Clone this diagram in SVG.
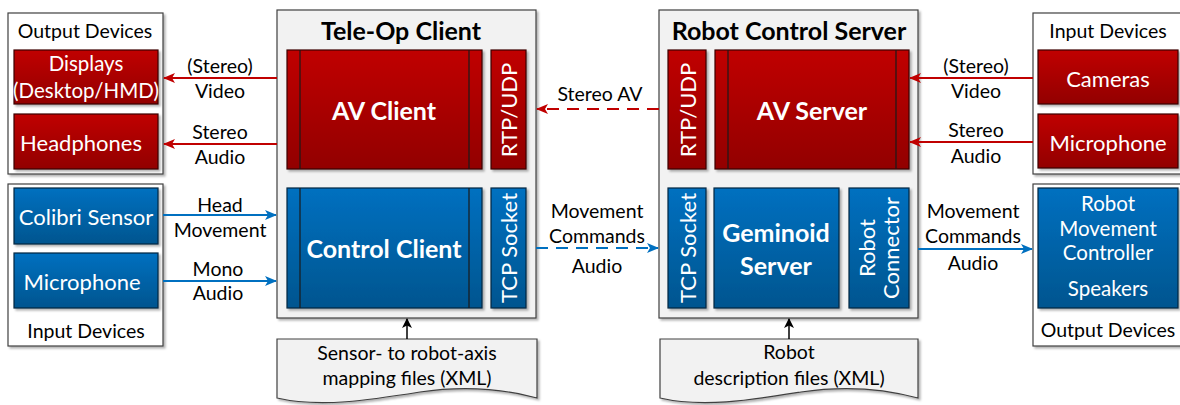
<svg xmlns="http://www.w3.org/2000/svg" width="1180" height="405" viewBox="0 0 1180 405">
<defs>
<linearGradient id="gr" x1="0" y1="0" x2="0" y2="1"><stop offset="0" stop-color="#c00000"/><stop offset="1" stop-color="#920000"/></linearGradient>
<linearGradient id="gb" x1="0" y1="0" x2="0" y2="1"><stop offset="0" stop-color="#0070c0"/><stop offset="1" stop-color="#00558f"/></linearGradient>
<filter id="sh" x="-10%" y="-10%" width="130%" height="130%"><feDropShadow dx="2" dy="2" stdDeviation="1" flood-color="#000" flood-opacity="0.3"/></filter>
<marker id="ar" markerWidth="12" markerHeight="10" refX="11" refY="5" orient="auto" markerUnits="userSpaceOnUse"><path d="M0,0 L12,5 L0,10 L3,5 Z" fill="#c00000"/></marker>
<marker id="ab" markerWidth="12" markerHeight="10" refX="11" refY="5" orient="auto" markerUnits="userSpaceOnUse"><path d="M0,0 L12,5 L0,10 L3,5 Z" fill="#0070c0"/></marker>
<marker id="ak" markerWidth="10" markerHeight="10" refX="9" refY="5" orient="auto" markerUnits="userSpaceOnUse"><path d="M0,0 L10,5 L0,10 L2.5,5 Z" fill="#000"/></marker>
<style>
text{font-family:Lato,"Liberation Sans",sans-serif;text-anchor:middle;dominant-baseline:central}
.t{font-size:19.5px;fill:#000}
.w{font-size:22px;fill:#fff}
.ws{font-size:20.5px;fill:#fff}
.wb{font-size:25px;fill:#fff;font-weight:bold}
.h{font-size:25px;fill:#000;font-weight:bold}
.cont{fill:#fff;stroke:#404040;stroke-width:1.2}
.sys{fill:#f2f2f2;stroke:#404040;stroke-width:1.2}
.red{fill:url(#gr);stroke:#3a0000;stroke-width:1.2}
.blue{fill:url(#gb);stroke:#0a2540;stroke-width:1.2}
.div{stroke:#1a1a1a;stroke-width:1.2}
.doc{fill:#f2f2f2;stroke:#404040;stroke-width:1.2}
.lr{stroke:#c00000;stroke-width:2;fill:none}
.lb{stroke:#0070c0;stroke-width:2;fill:none}
.lk{stroke:#000;stroke-width:1.5;fill:none}
</style>
</defs>

<g id="output-devices-left">
<rect class="cont" x="8" y="13" width="155" height="161" filter="url(#sh)"/>
<text class="t" x="85" y="30">Output Devices</text>
</g>
<g id="displays">
<rect class="red" x="14" y="50" width="144" height="54" filter="url(#sh)"/>
<text class="ws" x="86" y="63">Displays</text>
<text class="ws" x="86" y="90">(Desktop/HMD)</text>
</g>
<g id="headphones">
<rect class="red" x="14" y="114" width="144" height="55" filter="url(#sh)"/>
<text class="w" x="81" y="142">Headphones</text>
</g>

<g id="input-devices-left">
<rect class="cont" x="8" y="184" width="155" height="162" filter="url(#sh)"/>
<text class="t" x="86" y="330">Input Devices</text>
</g>
<g id="colibri">
<rect class="blue" x="14" y="188" width="144" height="56" filter="url(#sh)"/>
<text class="w" x="86" y="216">Colibri Sensor</text>
</g>
<g id="mic-left">
<rect class="blue" x="14" y="253" width="144" height="55" filter="url(#sh)"/>
<text class="w" x="82" y="281">Microphone</text>
</g>

<g id="teleop-client">
<rect class="sys" x="277" y="10" width="259" height="308" filter="url(#sh)"/>
<text class="h" x="401" y="30">Tele-Op Client</text>
</g>
<g id="av-client">
<rect class="red" x="287" y="50" width="195" height="119" filter="url(#sh)"/>
<line class="div" x1="300" y1="50" x2="300" y2="169"/>
<line class="div" x1="469" y1="50" x2="469" y2="169"/>
<text class="wb" x="384" y="110">AV Client</text>
</g>
<g id="rtp-client">
<rect class="red" x="491" y="50" width="35" height="119" filter="url(#sh)"/>
<text class="w" x="508" y="110" transform="rotate(-90 508 110)">RTP/UDP</text>
</g>
<g id="control-client">
<rect class="blue" x="287" y="188" width="195" height="120" filter="url(#sh)"/>
<line class="div" x1="300" y1="188" x2="300" y2="308"/>
<line class="div" x1="469" y1="188" x2="469" y2="308"/>
<text class="wb" x="384" y="248">Control Client</text>
</g>
<g id="tcp-client">
<rect class="blue" x="491" y="188" width="35" height="120" filter="url(#sh)"/>
<text class="w" x="508" y="248" transform="rotate(-90 508 248)">TCP Socket</text>
</g>

<g id="robot-server">
<rect class="sys" x="659" y="10" width="259" height="308" filter="url(#sh)"/>
<text class="h" x="789" y="30">Robot Control Server</text>
</g>
<g id="rtp-server">
<rect class="red" x="668" y="50" width="38" height="119" filter="url(#sh)"/>
<text class="w" x="687" y="110" transform="rotate(-90 687 110)">RTP/UDP</text>
</g>
<g id="av-server">
<rect class="red" x="715" y="50" width="194" height="119" filter="url(#sh)"/>
<line class="div" x1="728" y1="50" x2="728" y2="169"/>
<line class="div" x1="896" y1="50" x2="896" y2="169"/>
<text class="wb" x="812" y="110">AV Server</text>
</g>
<g id="tcp-server">
<rect class="blue" x="668" y="188" width="38" height="120" filter="url(#sh)"/>
<text class="w" x="687" y="248" transform="rotate(-90 687 248)">TCP Socket</text>
</g>
<g id="geminoid-server">
<rect class="blue" x="714" y="188" width="125" height="120" filter="url(#sh)"/>
<text class="wb" x="776" y="232">Geminoid</text>
<text class="wb" x="776" y="265">Server</text>
</g>
<g id="robot-connector">
<rect class="blue" x="849" y="188" width="60" height="120" filter="url(#sh)"/>
<text class="w" x="866" y="248" transform="rotate(-90 866 248)">Robot</text>
<text class="w" x="890" y="248" transform="rotate(-90 890 248)">Connector</text>
</g>

<g id="input-devices-right">
<rect class="cont" x="1033" y="13" width="155" height="161" filter="url(#sh)"/>
<text class="t" x="1108" y="30">Input Devices</text>
</g>
<g id="cameras">
<rect class="red" x="1038" y="50" width="140" height="54" filter="url(#sh)"/>
<text class="w" x="1108" y="78">Cameras</text>
</g>
<g id="mic-right">
<rect class="red" x="1038" y="114" width="140" height="54" filter="url(#sh)"/>
<text class="w" x="1108" y="142">Microphone</text>
</g>

<g id="output-devices-right">
<rect class="cont" x="1033" y="184" width="155" height="162" filter="url(#sh)"/>
<text class="t" x="1108" y="329">Output Devices</text>
</g>
<g id="robot-movement">
<rect class="blue" x="1038" y="188" width="140" height="120" filter="url(#sh)"/>
<text class="ws" x="1108" y="203">Robot</text>
<text class="ws" x="1108" y="228">Movement</text>
<text class="ws" x="1108" y="252">Controller</text>
<text class="ws" x="1108" y="288">Speakers</text>
</g>

<g id="doc-mapping">
<path class="doc" d="M277,339 H537 V398 C500,388 460,386 420,392 C370,400 320,408 277,398 Z" filter="url(#sh)"/>
<text class="t" x="407" y="352">Sensor- to robot-axis</text>
<text class="t" x="407" y="377">mapping files (XML)</text>
</g>
<g id="doc-robot">
<path class="doc" d="M660,339 H918 V398 C881,388 841,386 801,392 C751,400 703,408 660,398 Z" filter="url(#sh)"/>
<text class="t" x="789" y="351">Robot</text>
<text class="t" x="789" y="377">description files (XML)</text>
</g>

<g id="connectors">
<line class="lr" x1="277" y1="78" x2="164" y2="78" marker-end="url(#ar)"/>
<line class="lr" x1="277" y1="144" x2="164" y2="144" marker-end="url(#ar)"/>
<line class="lb" x1="163" y1="215" x2="276" y2="215" marker-end="url(#ab)"/>
<line class="lb" x1="163" y1="281" x2="276" y2="281" marker-end="url(#ab)"/>
<line class="lr" x1="659" y1="109" x2="537" y2="109" stroke-dasharray="12,8" marker-end="url(#ar)"/>
<line class="lb" x1="536" y1="248" x2="658" y2="248" stroke-dasharray="12,8" marker-end="url(#ab)"/>
<line class="lr" x1="1033" y1="78" x2="910" y2="78" marker-end="url(#ar)"/>
<line class="lr" x1="1033" y1="142" x2="910" y2="142" marker-end="url(#ar)"/>
<line class="lb" x1="918" y1="249" x2="1032" y2="249" marker-end="url(#ab)"/>
<line class="lk" x1="407" y1="339" x2="407" y2="319" marker-end="url(#ak)"/>
<line class="lk" x1="789" y1="339" x2="789" y2="319" marker-end="url(#ak)"/>
<text class="t" x="220" y="65">(Stereo)</text>
<text class="t" x="220" y="90">Video</text>
<text class="t" x="220" y="131">Stereo</text>
<text class="t" x="220" y="156">Audio</text>
<text class="t" x="220" y="204">Head</text>
<text class="t" x="220" y="229">Movement</text>
<text class="t" x="218" y="268">Mono</text>
<text class="t" x="218" y="292">Audio</text>
<text class="t" x="600" y="93">Stereo AV</text>
<text class="t" x="597" y="210">Movement</text>
<text class="t" x="597" y="235">Commands</text>
<text class="t" x="597" y="265">Audio</text>
<text class="t" x="976" y="65">(Stereo)</text>
<text class="t" x="976" y="90">Video</text>
<text class="t" x="976" y="129">Stereo</text>
<text class="t" x="976" y="155">Audio</text>
<text class="t" x="973" y="210">Movement</text>
<text class="t" x="973" y="235">Commands</text>
<text class="t" x="973" y="262">Audio</text>
</g>
</svg>
